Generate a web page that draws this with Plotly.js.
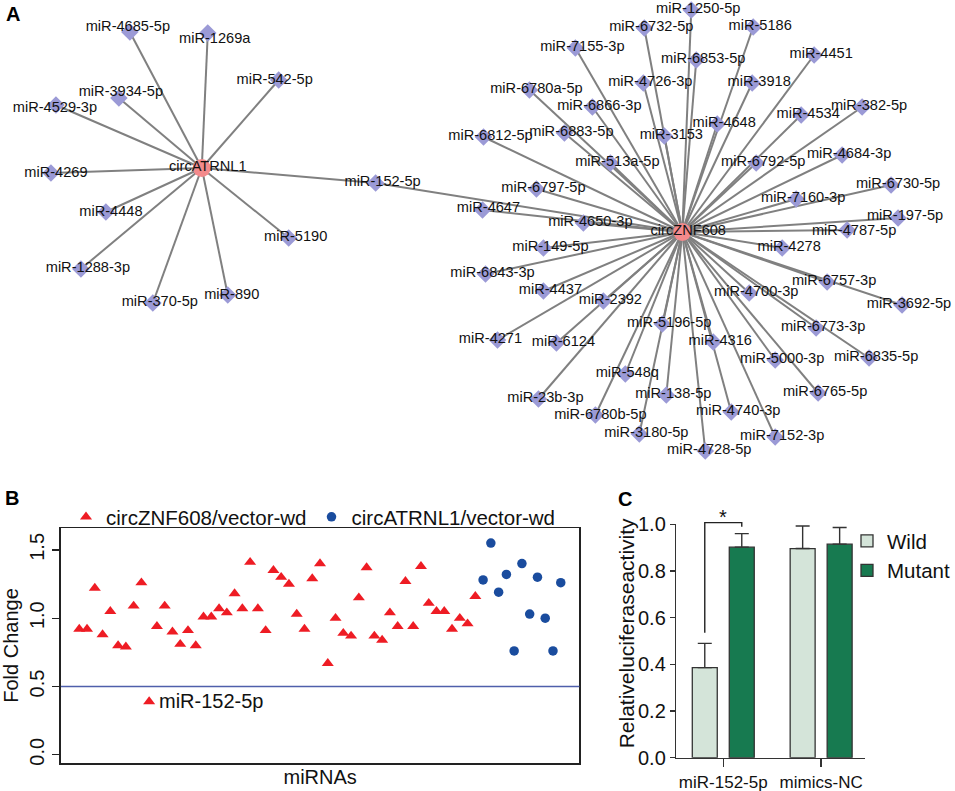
<!DOCTYPE html>
<html><head><meta charset="utf-8">
<script src="https://cdn.plot.ly/plotly-3.0.1.min.js"></script>
<style>html,body{margin:0;padding:0;background:#fff}</style>
</head><body><div id="chart" style="width:955px;height:791px"></div>
<script>
// ================= DATA =================
// Panel A: network (circRNA hubs and their miRNA targets)
const HUBS = ['circATRNL1', 'circZNF608'];
const ATRNL1_TARGETS = ['miR-4685-5p','miR-1269a','miR-542-5p','miR-3934-5p','miR-4529-3p','miR-4269',
  'miR-4448','miR-1288-3p','miR-370-5p','miR-890','miR-5190','miR-152-5p'];
const ZNF608_TARGETS = ['miR-152-5p','miR-1250-5p','miR-6732-5p','miR-5186','miR-7155-3p','miR-6853-5p',
  'miR-4451','miR-6780a-5p','miR-4726-3p','miR-3918','miR-6866-3p','miR-4648','miR-4534','miR-382-5p',
  'miR-6812-5p','miR-6883-5p','miR-3153','miR-513a-5p','miR-6792-5p','miR-4684-3p','miR-6797-5p',
  'miR-7160-3p','miR-6730-5p','miR-4647','miR-4650-3p','miR-197-5p','miR-4787-5p','miR-149-5p',
  'miR-4278','miR-6843-3p','miR-6757-3p','miR-4437','miR-2392','miR-4700-3p','miR-3692-5p',
  'miR-5196-5p','miR-4271','miR-6124','miR-6773-3p','miR-4316','miR-5000-3p','miR-6835-5p',
  'miR-548q','miR-138-5p','miR-23b-3p','miR-6765-5p','miR-6780b-5p','miR-4740-3p','miR-3180-5p',
  'miR-7152-3p','miR-4728-5p'];

// Panel B: fold change of miRNAs
const ZNF608_FOLD = [0.92,0.92,1.22,0.88,1.05,0.80,0.79,1.09,1.26,0.39,
  0.94,1.09,0.90,0.81,0.91,0.80,1.01,1.01,1.07,1.04,
  1.18,1.07,1.41,1.07,0.91,1.35,1.30,1.25,1.03,0.92,
  1.29,1.40,0.67,1.00,0.89,0.87,1.15,1.37,0.87,0.84,
  1.04,0.94,1.27,0.94,1.38,1.11,1.05,1.05,0.92,1.00,0.96,1.16];
const ATRNL1_FOLD = [1.28,1.55,1.19,1.32,0.76,1.40,1.03,1.30,1.00,0.76,1.26];
const HIGHLIGHT_LABEL = 'miR-152-5p';
const FOLD_THRESHOLD = 0.5;
const B_TICKS = [0, 0.5, 1.0, 1.5];
const B_TICKTEXT = ['0.0', '0.5', '1.0', '1.5'];

// Panel C: relative luciferase activity
const C_GROUPS = ['miR-152-5p', 'mimics-NC'];
const WILD_MEAN = [0.386, 0.896];
const WILD_ERR = [0.104, 0.097];
const MUTANT_MEAN = [0.902, 0.915];
const MUTANT_ERR = [0.058, 0.071];

// ================= LAYOUT of the network (node placement, pixel space) =================
const HUB_POS = {'circATRNL1': [202, 168], 'circZNF608': [683, 232]};
const NODE_POS = {
  'miR-4685-5p':[130,32],'miR-1269a':[208,33],'miR-542-5p':[279,80],'miR-3934-5p':[119,98],
  'miR-4529-3p':[56,105],'miR-4269':[51,173],'miR-4448':[106,212],'miR-1288-3p':[81,269],
  'miR-370-5p':[153,303],'miR-890':[228,295],'miR-5190':[289,238],'miR-152-5p':[376,183],
  'miR-1250-5p':[692,10],'miR-6732-5p':[645,28],'miR-5186':[754,27],'miR-7155-3p':[576,48],
  'miR-6853-5p':[697,60],'miR-4451':[815,55],'miR-6780a-5p':[530,90],'miR-4726-3p':[644,83],
  'miR-3918':[753,83],'miR-6866-3p':[593,107],'miR-4648':[718,124],'miR-4534':[802,115],
  'miR-382-5p':[863,107],'miR-6812-5p':[484,137],'miR-6883-5p':[565,133],'miR-3153':[665,136],
  'miR-513a-5p':[611,163],'miR-6792-5p':[757,163],'miR-4684-3p':[843,155],'miR-6797-5p':[537,189],
  'miR-7160-3p':[797,199],'miR-6730-5p':[892,185],'miR-4647':[483,210],'miR-4650-3p':[584,223],
  'miR-197-5p':[899,218],'miR-4787-5p':[848,230],'miR-149-5p':[544,248],'miR-4278':[783,248],
  'miR-6843-3p':[486,274],'miR-6757-3p':[828,282],'miR-4437':[544,291],'miR-2392':[604,301],
  'miR-4700-3p':[750,293],'miR-3692-5p':[903,305],'miR-5196-5p':[663,324],'miR-4271':[498,340],
  'miR-6124':[557,343],'miR-6773-3p':[817,328],'miR-4316':[714,342],'miR-5000-3p':[776,360],
  'miR-6835-5p':[870,358],'miR-548q':[626,374],'miR-138-5p':[667,395],'miR-23b-3p':[539,399],
  'miR-6765-5p':[819,393],'miR-6780b-5p':[596,415],'miR-4740-3p':[732,412],'miR-3180-5p':[640,434],
  'miR-7152-3p':[776,437],'miR-4728-5p':[706,451]
};
const LABEL_SHIFT_DEFAULT = [7, -1];
const LABEL_SHIFT = {'miR-4685-5p':[-2,-5],'miR-1269a':[7,6],'miR-542-5p':[-4,0],'miR-3934-5p':[2,-6],
  'miR-4529-3p':[-1,3],'miR-4269':[5,0],'miR-4448':[5,0],'miR-890':[4,0],'miR-4271':[-7,-1],
  'miR-548q':[2,-1],'miR-4728-5p':[4,-1],'miR-6780b-5p':[5,0],'miR-4647':[6,-2],
  'miR-197-5p':[7,-2],'miR-4787-5p':[7,1]};
const HUB_LABEL_SHIFT = [6, -1];

// ================= BUILD =================
const FONT = 'Liberation Sans, Arial, Helvetica, sans-serif';
const traces = [];

// edges
const ex = [], ey = [];
function addEdges(hub, targets) {
  const h = HUB_POS[hub];
  targets.forEach(t => { const p = NODE_POS[t]; ex.push(h[0], p[0], null); ey.push(h[1], p[1], null); });
}
addEdges('circATRNL1', ATRNL1_TARGETS);
addEdges('circZNF608', ZNF608_TARGETS);
traces.push({type:'scatter', mode:'lines', x:ex, y:ey, xaxis:'x', yaxis:'y', hoverinfo:'skip',
  line:{color:'#808080', width:2}, showlegend:false});

// miRNA nodes
const mirNames = Object.keys(NODE_POS);
traces.push({type:'scatter', mode:'markers', xaxis:'x', yaxis:'y', showlegend:false,
  x: mirNames.map(n => NODE_POS[n][0]), y: mirNames.map(n => NODE_POS[n][1]),
  marker:{symbol:'diamond', size:13.5, color:'#9b9ad6', line:{width:0}}, cliponaxis:false, hoverinfo:'text', text:mirNames});
// hubs
traces.push({type:'scatter', mode:'markers', xaxis:'x', yaxis:'y', showlegend:false,
  x: HUBS.map(n => HUB_POS[n][0]), y: HUBS.map(n => HUB_POS[n][1]),
  marker:{symbol:'circle', size:18, color:'#f38a8c', line:{width:0}}, cliponaxis:false, hoverinfo:'text', text:HUBS});
// labels
const lab = mirNames.map(n => { const s = LABEL_SHIFT[n] || LABEL_SHIFT_DEFAULT; return [NODE_POS[n][0]+s[0], NODE_POS[n][1]+s[1]]; });
traces.push({type:'scatter', mode:'text', xaxis:'x', yaxis:'y', showlegend:false, hoverinfo:'skip',
  x: lab.map(p => p[0]).concat(HUBS.map(n => HUB_POS[n][0] + HUB_LABEL_SHIFT[0])),
  y: lab.map(p => p[1]).concat(HUBS.map(n => HUB_POS[n][1] + HUB_LABEL_SHIFT[1])),
  text: mirNames.concat(HUBS), textposition:'middle center', cliponaxis:false,
  textfont:{family:FONT, size:14.6, color:'#111'}});

// Panel B
const znfX = ZNF608_FOLD.map((v, i) => i + 1);
const atrX = ATRNL1_FOLD.map((v, i) => ZNF608_FOLD.length + i + 1);
traces.push({type:'scatter', mode:'markers', name:'circZNF608/vector-wd', xaxis:'x2', yaxis:'y2', legend:'legend',
  x: znfX, y: ZNF608_FOLD, marker:{symbol:'triangle-up', size:10.5, color:'#ee1c24'}, cliponaxis:false});
traces.push({type:'scatter', mode:'markers', name:'circATRNL1/vector-wd', xaxis:'x2', yaxis:'y2', legend:'legend',
  x: atrX, y: ATRNL1_FOLD, marker:{symbol:'circle', size:9.5, color:'#1a4c9e'}, cliponaxis:false});
const hiIdx = ZNF608_FOLD.indexOf(Math.min(...ZNF608_FOLD));

// Panel C
const cX = C_GROUPS.map((g, i) => i);
const zeros = C_GROUPS.map(() => 0);
traces.push({type:'bar', name:'Wild', x:cX, y:WILD_MEAN, xaxis:'x3', yaxis:'y3', legend:'legend2',
  marker:{color:'#d4e4d9', line:{color:'#333', width:1.3}},
  error_y:{type:'data', array:WILD_ERR, arrayminus:zeros, symmetric:false, color:'#333', thickness:1.4, width:7}});
traces.push({type:'bar', name:'Mutant', x:cX, y:MUTANT_MEAN, xaxis:'x3', yaxis:'y3', legend:'legend2',
  marker:{color:'#177a50', line:{color:'#333', width:1.3}},
  error_y:{type:'data', array:MUTANT_ERR, arrayminus:zeros, symmetric:false, color:'#333', thickness:1.4, width:7}});

// C axis ranges (category units) and bar grouping
const C_XRANGE = [-0.48, 1.449];
const BARGAP = 0.244, BARGROUPGAP = 0.325;
const slot = (1 - BARGAP) / 2;
function cxDomain(v) { return (v - C_XRANGE[0]) / (C_XRANGE[1] - C_XRANGE[0]); }
const wildCenter0 = cX[0] - slot / 2, mutCenter0 = cX[0] + slot / 2;
const bracketTop = 1.007;
const shapes = [
  {type:'line', xref:'x2 domain', yref:'y2', x0:0, x1:1, y0:FOLD_THRESHOLD, y1:FOLD_THRESHOLD,
   line:{color:'#4f5fab', width:1.6}},
  {type:'path', xref:'x3 domain', yref:'y3 domain',
   path:'M' + cxDomain(wildCenter0) + ',' + (WILD_MEAN[0] + WILD_ERR[0] + 0.045) +
        'L' + cxDomain(wildCenter0) + ',' + bracketTop +
        'L' + cxDomain(mutCenter0) + ',' + bracketTop +
        'L' + cxDomain(mutCenter0) + ',' + (bracketTop - 0.017),
   line:{color:'#222', width:1.4}}
];

const W = 955, H = 791;
const layout = {
  width:W, height:H, margin:{l:0, r:0, t:0, b:0}, paper_bgcolor:'#fff', plot_bgcolor:'rgba(0,0,0,0)',
  font:{family:FONT, color:'#111'}, hovermode:'closest',
  xaxis:{domain:[0,1], range:[0,955], visible:false, fixedrange:true},
  yaxis:{domain:[1-480/H, 1], range:[480,0], visible:false, fixedrange:true},
  xaxis2:{domain:[61/W, 580/W], range:[-1.36, 65.4], anchor:'y2', showline:true, mirror:true,
    linecolor:'#222', linewidth:1.5, showticklabels:false, ticks:'', showgrid:false, zeroline:false,
    title:{text:'miRNAs', font:{size:20, family:FONT}, standoff:6}},
  yaxis2:{domain:[1-763/H, 1-528/H], range:[-0.06, 1.66], anchor:'x2', showline:true, mirror:true,
    linecolor:'#222', linewidth:1.5, tickvals:B_TICKS, ticktext:B_TICKTEXT, tickangle:-90,
    ticks:'outside', ticklen:7, tickwidth:1.3, tickcolor:'#222', tickfont:{size:20, family:FONT},
    showgrid:false, zeroline:false, title:{text:'Fold Change', font:{size:20, family:FONT}, standoff:6}},
  xaxis3:{domain:[677/W, 866/W], range:C_XRANGE, anchor:'y3', showline:true, linecolor:'#333', linewidth:1.5,
    tickvals:cX, ticktext:C_GROUPS, ticks:'outside', ticklen:8, tickwidth:1.4, tickcolor:'#333',
    tickfont:{size:17, family:FONT}, showgrid:false, zeroline:false},
  yaxis3:{domain:[1-757.7/H, 1-524.3/H], range:[0,1], anchor:'x3', showline:true, linecolor:'#333', linewidth:1.5,
    dtick:0.2, tickformat:'.1f', ticks:'outside', ticklen:5, tickwidth:1.4, tickcolor:'#333',
    tickfont:{size:20, family:FONT}, showgrid:false, zeroline:false},
  barmode:'group', bargap:BARGAP, bargroupgap:BARGROUPGAP,
  legend:{orientation:'h', x:66/W, y:1-497/H, xanchor:'left', yanchor:'top', font:{size:20.5, family:FONT},
    bgcolor:'rgba(0,0,0,0)', itemclick:false, traceorder:'normal'},
  legend2:{orientation:'v', x:848/W, y:1-521/H, xanchor:'left', yanchor:'top', font:{size:20.5, family:FONT},
    bgcolor:'rgba(0,0,0,0)', itemclick:false, traceorder:'normal'},
  shapes:shapes,
  annotations:[
    {text:'<b>A</b>', xref:'paper', yref:'paper', x:4/W, y:1-1/H, xanchor:'left', yanchor:'top', showarrow:false, font:{size:20, family:FONT, color:'#000'}},
    {text:'<b>B</b>', xref:'paper', yref:'paper', x:3/W, y:1-485/H, xanchor:'left', yanchor:'top', showarrow:false, font:{size:20, family:FONT, color:'#000'}},
    {text:'<b>C</b>', xref:'paper', yref:'paper', x:617/W, y:1-486/H, xanchor:'left', yanchor:'top', showarrow:false, font:{size:20, family:FONT, color:'#000'}},
    {text:'Relativeluciferaseactivity', xref:'paper', yref:'paper', x:627/W, y:1-633/H, xanchor:'center', yanchor:'middle',
     textangle:-90, showarrow:false, font:{size:21, family:FONT}},
    {text:HIGHLIGHT_LABEL, xref:'x2', yref:'y2', x:znfX[hiIdx], y:ZNF608_FOLD[hiIdx], xanchor:'left', xshift:8, yshift:1,
     showarrow:false, font:{size:20, family:FONT}},
    {text:'*', xref:'x3', yref:'y3', x:(wildCenter0 + mutCenter0)/2, y:1.0, yanchor:'bottom', yshift:-6,
     showarrow:false, font:{size:20, family:FONT}}
  ]
};

Plotly.newPlot('chart', traces, layout, {staticPlot:true, displayModeBar:false});
</script>
</body></html>
